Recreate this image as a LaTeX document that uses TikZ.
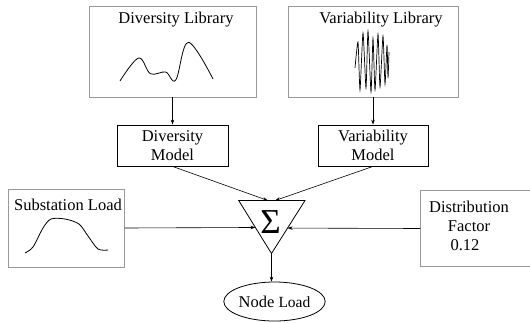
\documentclass[tikz,border=0pt]{standalone}
\usepackage{fontspec}
\setmainfont{Liberation Serif}
\usetikzlibrary{calc,arrows.meta,shapes.geometric}
\begin{document}
\begin{tikzpicture}[x=1pt,y=-1pt,
  every node/.style={font=\fontsize{16.5}{19.5}\selectfont},
  graybox/.style={draw=black!40,line width=0.8pt,inner sep=0pt},
  grayline/.style={draw=black!40,line width=0.8pt},
  blackbox/.style={draw=black,line width=0.8pt,inner sep=0pt,align=center},
  conn/.style={draw=black,line width=0.6pt,-{Stealth[length=5pt,width=3.5pt]}},
  curve/.style={draw=black,line width=0.8pt}]
\useasboundingbox (0,0) rectangle (530,322);
% library boxes
\node[graybox,minimum width=167pt,minimum height=91pt] (dlib) at (172.5,51.5) {};
\node (dlibt) at (176,19.5) {Diversity Library};
\node[graybox,minimum width=170pt,minimum height=91pt] (vlib) at (373,51.5) {};
\node (vlibt) at (381,19.5) {Variability Library};
% model boxes
\node[blackbox,minimum width=111pt,minimum height=41pt] (dmod) at (172.5,145.5) {Diversity\\Model};
\node[blackbox,minimum width=110pt,minimum height=41pt] (vmod) at (373,145.5) {Variability\\Model};
% side boxes
\node[graybox,minimum width=115.5pt,minimum height=78pt] (sub) at (66.5,228) {};
\node (subt) at (68,204.5) {Substation Load};
\node[inner sep=0pt,minimum width=116pt,minimum height=75pt] (dist) at (478.5,228.5) {};
\draw[grayline] (dist.north east) -- (dist.north west) -- (dist.south west) -- (dist.south east);
\node[align=center] (distt) at (469,225.5) {Distribution\\Factor\\[-1pt]\hspace*{-8pt}0.12};
% summing triangle
\coordinate (tl) at (238.7,200.5);
\coordinate (tr) at (305,200.5);
\coordinate (tb) at (271.5,253.5);
\draw[line width=0.8pt] (tl) -- (tr) -- (tb) -- cycle;
\node[font=\fontsize{35}{35}\selectfont,inner sep=0pt] (sum) at (270.5,222) {Σ};
\coordinate (inA) at ($(tl)!0.44!(tr)$);
\coordinate (inB) at ($(tl)!0.55!(tr)$);
\coordinate (inL) at ($(tl)!0.509!(tb)$);
\coordinate (inR) at ($(tr)!0.52!(tb)$);
% node load
\node[draw,ellipse,line width=0.8pt,minimum width=89pt,minimum height=39pt,inner sep=0pt] (nl) at (274.5,301.5) {Node {\fontsize{15.5}{15.5}\selectfont Load}};
% curves
\draw[curve] plot[smooth,tension=0.6] coordinates {(120,81) (138.6,58) (150.4,73.7) (165.6,72) (175.8,80) (188.3,42.3) (213,79)};
\draw[curve,line width=0.7pt] plot[smooth,tension=0.35] coordinates {(355,68) (358,42) (360,90) (363,33) (366,88) (368,31) (371,92) (373,38) (375,90) (378,34) (380,87) (383,36) (385,84) (387,45) (388,78) (389,52)};
\draw[curve] plot[smooth,tension=0.5] coordinates {(25,253) (33,247) (43,228) (51,219) (65,219) (79,224) (88,236) (98,249) (108,250)};
% connectors
\draw[conn] (dlib.south -| dmod.north) -- (dmod.north);
\draw[conn] (vlib.south -| vmod.north) -- (vmod.north);
\draw[conn] (dmod.south) -- (inA);
\draw[conn] (vmod.south) -- (inB);
\draw[conn] (sub.east) -- (inL);
\draw[conn] (dist.west) -- (inR);
\draw[conn] (tb) -- (tb |- nl.north);
\end{tikzpicture}
\end{document}
